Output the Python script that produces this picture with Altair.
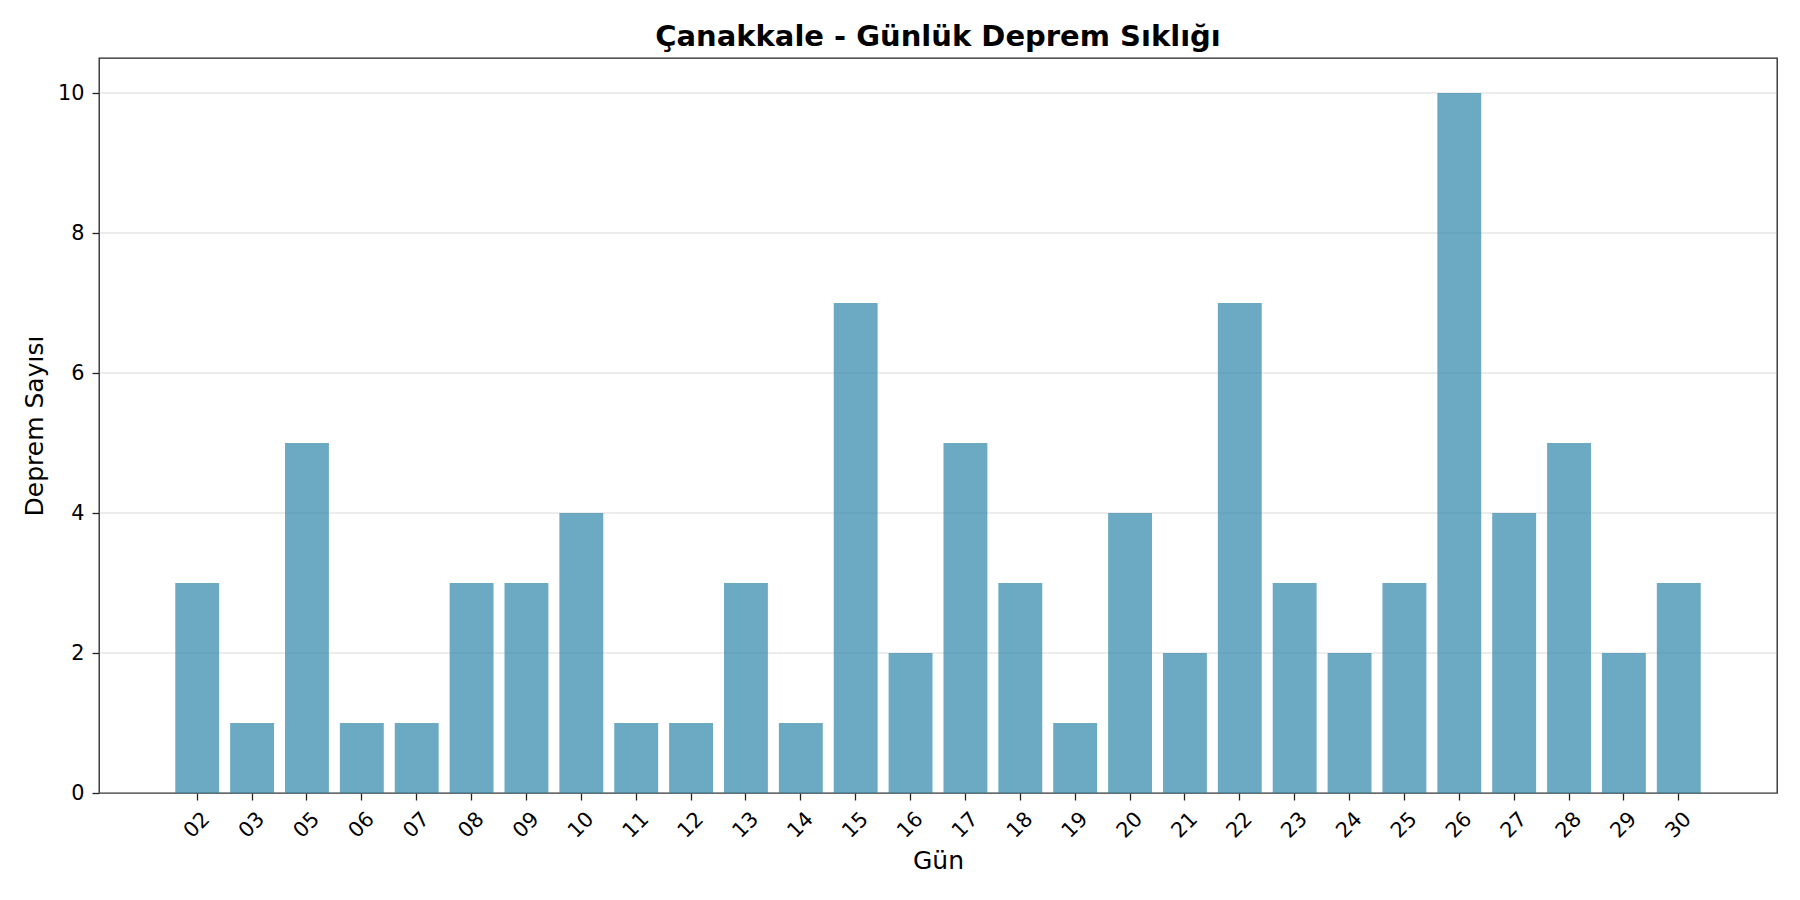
import altair as alt
import pandas as pd

# daily earthquake counts for Çanakkale
days = ["02", "03", "05", "06", "07", "08", "09", "10", "11", "12", "13", "14", "15", "16",
        "17", "18", "19", "20", "21", "22", "23", "24", "25", "26", "27", "28", "29", "30"]
counts = [3, 1, 5, 1, 1, 3, 3, 4, 1, 1, 3, 1, 7, 2, 5, 3, 1, 4, 2, 7, 3, 2, 3, 10, 4, 5, 2, 3]
y_ticks = [0, 2, 4, 6, 8, 10]

FONT = "DejaVu Sans"
W, H = 1678, 735

# matplotlib-like 5% margins around the bars: outer padding of 1.39 steps,
# band scale only allows 1, so shrink the range a little on both sides
step = W / (len(days) - 0.2 + 2 * 1.39)
inset = (W - step * (len(days) - 0.2 + 2)) / 2

df = pd.DataFrame({"day": days, "count": counts})
grid_df = pd.DataFrame({"count": y_ticks})

y_scale = alt.Scale(domain=[0, 10.5], nice=False, zero=True)

# horizontal grid lines across the full plot width
grid = (
    alt.Chart(grid_df)
    .mark_rule(color="#B0B0B0", opacity=0.3, strokeWidth=1.3)
    .encode(
        y=alt.Y("count:Q", scale=y_scale),
        x=alt.value(0),
        x2=alt.value(W),
    )
)

bars = (
    alt.Chart(df)
    .mark_bar(color="#2E86AB", opacity=0.7)
    .encode(
        x=alt.X(
            "day:N",
            sort=days,
            scale=alt.Scale(paddingInner=0.2, paddingOuter=1, range=[inset, W - inset]),
            axis=alt.Axis(
                title="Gün",
                titleFontSize=25,
                titleFontWeight="normal",
                titleX=W / 2,
                titleY=75,
                titleBaseline="alphabetic",
                titleAlign="center",
                labelAngle=-45,
                labelAlign="center",
                labelBaseline="middle",
                labelPadding=25,
                labelFontSize=20.8,
                labelColor="black",
                labelOverlap=False,
                labelFlush=False,
                tickSize=7,
                tickWidth=1.3,
                tickColor="#222222",
                bandPosition=0.5,
                domain=False,
                grid=False,
            ),
        ),
        y=alt.Y(
            "count:Q",
            scale=y_scale,
            axis=alt.Axis(
                title="Deprem Sayısı",
                values=y_ticks,
                format="d",
                titleFontSize=25,
                titleFontWeight="normal",
                titleAngle=-90,
                titleX=-65,
                titleY=H / 2,
                titleAlign="center",
                titleBaseline="middle",
                labelFontSize=20.8,
                labelColor="black",
                labelPadding=8,
                tickSize=7,
                tickWidth=1.3,
                tickColor="#222222",
                domain=False,
                grid=False,
            ),
        ),
    )
)

chart = (
    alt.layer(grid, bars)
    .properties(
        width=W,
        height=H,
        autosize=alt.AutoSizeParams(type="none"),
        padding={"left": 91, "top": 50, "right": 15, "bottom": 99},
        title=alt.TitleParams(
            "Çanakkale - Günlük Deprem Sıklığı",
            fontSize=29,
            fontWeight="bold",
            anchor="middle",
            baseline="alphabetic",
            offset=9,
            dy=26,
            color="black",
        ),
    )
    .configure(font=FONT)
    .configure_view(stroke="#222222", strokeWidth=1.3)
    .configure_axis(titleColor="black", titleFont=FONT, labelFont=FONT)
    .configure_title(font=FONT)
)

chart.save("out.html", embed_options={"renderer": "svg", "actions": False})
